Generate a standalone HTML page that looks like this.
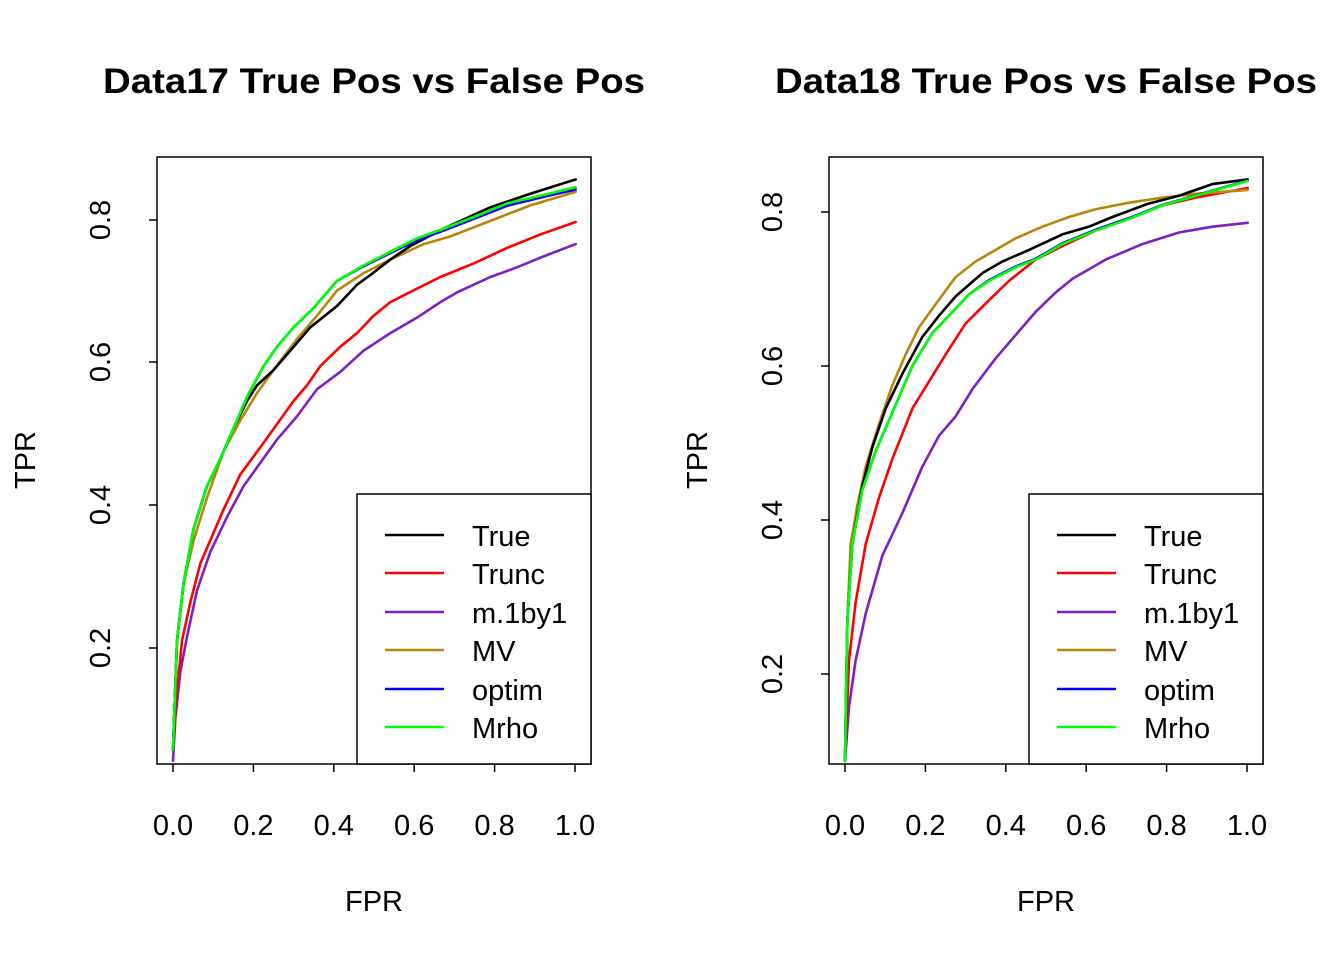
<!DOCTYPE html>
<html><head><meta charset="utf-8"><style>
html,body{margin:0;padding:0;background:#fff}
svg{display:block;font-family:"Liberation Sans",Arial,sans-serif}
</style></head><body>
<svg width="1344" height="960" viewBox="0 0 1344 960" xmlns="http://www.w3.org/2000/svg">
<defs>
<clipPath id="c1"><rect x="157" y="157" width="434" height="607"/></clipPath>
<clipPath id="c2"><rect x="829" y="157" width="434" height="607"/></clipPath>
</defs>
<g fill="none" stroke-width="2.6" stroke-linejoin="round" stroke-linecap="round">
<g clip-path="url(#c1)"><g transform="translate(157,157) scale(0.33333,0.3871)">
<polyline vector-effect="non-scaling-stroke" stroke="#7d1fc4" points="48,1560 55,1450 70,1330 90,1240 120,1120 160,1020 210,930 260,850 310,790 360,730 420,670 480,600 550,555 620,500 700,455 780,415 850,375 900,350 1000,310 1080,285 1150,260 1256,225"/>
<polyline vector-effect="non-scaling-stroke" stroke="#ff0000" points="48,1530 58,1400 75,1250 100,1150 130,1050 160,990 200,910 250,820 310,750 360,690 410,630 450,590 490,540 550,490 600,455 650,410 700,375 780,340 850,310 950,275 1050,235 1150,200 1256,168"/>
<polyline vector-effect="non-scaling-stroke" stroke="#b8860b" points="48,1530 60,1250 80,1100 110,990 150,880 200,760 250,680 300,610 350,550 420,470 480,410 540,345 620,300 700,265 800,225 880,205 1000,165 1120,125 1256,90"/>
<polyline vector-effect="non-scaling-stroke" stroke="#000" points="48,1530 60,1250 80,1100 110,960 150,850 190,780 230,700 270,630 300,590 350,550 400,500 460,440 540,385 600,330 640,305 700,265 760,230 860,185 1000,130 1120,95 1230,65 1256,58"/>
<polyline vector-effect="non-scaling-stroke" stroke="#0000ff" points="48,1530 60,1250 80,1100 110,960 150,850 190,780 230,700 270,620 320,540 360,490 410,440 470,390 540,320 620,282 700,248 780,215 860,190 950,160 1050,126 1150,105 1256,84"/>
<polyline vector-effect="non-scaling-stroke" stroke="#00ff00" points="48,1530 60,1250 80,1100 110,960 150,850 190,780 230,700 270,620 320,540 360,490 410,440 470,390 540,320 620,280 700,245 780,210 860,185 950,155 1050,120 1150,100 1256,78"/>
</g></g>
<g clip-path="url(#c2)"><g transform="translate(829,157) scale(0.33333,0.3871)">
<polyline vector-effect="non-scaling-stroke" stroke="#7d1fc4" points="48,1560 60,1420 80,1300 110,1180 160,1030 220,920 280,800 330,720 380,670 430,600 500,520 560,460 620,400 680,350 730,315 830,265 940,225 1050,195 1150,180 1256,170"/>
<polyline vector-effect="non-scaling-stroke" stroke="#ff0000" points="48,1560 60,1300 80,1150 110,1000 150,880 190,780 250,650 300,580 350,510 410,430 480,370 540,320 620,265 700,230 800,190 900,160 1000,125 1100,105 1256,80"/>
<polyline vector-effect="non-scaling-stroke" stroke="#b8860b" points="48,1560 55,1200 65,1000 85,900 110,800 150,690 190,590 230,510 270,440 320,380 380,310 440,270 500,240 560,210 640,180 720,155 800,135 900,118 1000,105 1100,95 1256,85"/>
<polyline vector-effect="non-scaling-stroke" stroke="#000" points="48,1560 55,1200 70,1000 100,850 130,750 170,650 220,560 280,465 330,410 380,360 460,300 520,270 600,240 700,200 780,180 850,155 960,120 1050,100 1150,70 1256,58"/>
<polyline vector-effect="non-scaling-stroke" stroke="#0000ff" points="48,1560 55,1200 70,1000 100,860 140,760 200,640 250,540 310,455 360,410 420,355 480,318 560,283 620,263 700,223 800,188 900,158 1000,124 1100,99 1256,61"/>
<polyline vector-effect="non-scaling-stroke" stroke="#00ff00" points="48,1560 55,1200 70,1000 100,860 140,760 200,640 250,540 310,455 360,410 420,355 480,320 560,285 620,265 700,225 800,190 900,160 1000,125 1100,100 1256,62"/>
</g></g>
</g>

<g stroke="#000" stroke-width="1.5" fill="none">
<rect x="157" y="157" width="434" height="607"/>
<rect x="829" y="157" width="434" height="607"/>
<line x1="173" y1="764" x2="173" y2="772"/><line x1="253.4" y1="764" x2="253.4" y2="772"/><line x1="333.8" y1="764" x2="333.8" y2="772"/><line x1="414.2" y1="764" x2="414.2" y2="772"/><line x1="494.6" y1="764" x2="494.6" y2="772"/><line x1="575" y1="764" x2="575" y2="772"/>
<line x1="149" y1="648" x2="157" y2="648"/><line x1="149" y1="505" x2="157" y2="505"/><line x1="149" y1="362" x2="157" y2="362"/><line x1="149" y1="220" x2="157" y2="220"/>
<line x1="845" y1="772" x2="845" y2="764"/><line x1="925.4" y1="764" x2="925.4" y2="772"/><line x1="1005.8" y1="764" x2="1005.8" y2="772"/><line x1="1086.2" y1="764" x2="1086.2" y2="772"/><line x1="1166.6" y1="764" x2="1166.6" y2="772"/><line x1="1247" y1="764" x2="1247" y2="772"/>
<line x1="821" y1="674" x2="829" y2="674"/><line x1="821" y1="520" x2="829" y2="520"/><line x1="821" y1="366" x2="829" y2="366"/><line x1="821" y1="212" x2="829" y2="212"/>
</g>

<g>
<rect x="357" y="494" width="234" height="270" fill="#fff" stroke="#000" stroke-width="1.5"/>
<rect x="1029" y="494" width="234" height="270" fill="#fff" stroke="#000" stroke-width="1.5"/>
<g stroke-width="2.6">
<line x1="385" y1="535" x2="444" y2="535" stroke="#000"/>
<line x1="385" y1="573" x2="444" y2="573" stroke="#ff0000"/>
<line x1="385" y1="612" x2="444" y2="612" stroke="#7d1fc4"/>
<line x1="385" y1="650" x2="444" y2="650" stroke="#b8860b"/>
<line x1="385" y1="689" x2="444" y2="689" stroke="#0000ff"/>
<line x1="385" y1="727" x2="444" y2="727" stroke="#00ff00"/>
<line x1="1057" y1="535" x2="1116" y2="535" stroke="#000"/>
<line x1="1057" y1="573" x2="1116" y2="573" stroke="#ff0000"/>
<line x1="1057" y1="612" x2="1116" y2="612" stroke="#7d1fc4"/>
<line x1="1057" y1="650" x2="1116" y2="650" stroke="#b8860b"/>
<line x1="1057" y1="689" x2="1116" y2="689" stroke="#0000ff"/>
<line x1="1057" y1="727" x2="1116" y2="727" stroke="#00ff00"/>
</g>
<g font-size="29" fill="#000">
<text x="472" y="546">True</text><text x="472" y="584">Trunc</text><text x="472" y="623">m.1by1</text><text x="472" y="661">MV</text><text x="472" y="700">optim</text><text x="472" y="738">Mrho</text>
<text x="1144" y="546">True</text><text x="1144" y="584">Trunc</text><text x="1144" y="623">m.1by1</text><text x="1144" y="661">MV</text><text x="1144" y="700">optim</text><text x="1144" y="738">Mrho</text>
</g>
</g>

<g font-size="29" fill="#000" text-anchor="middle">
<text x="173" y="835">0.0</text><text x="253.4" y="835">0.2</text><text x="333.8" y="835">0.4</text><text x="414.2" y="835">0.6</text><text x="494.6" y="835">0.8</text><text x="575" y="835">1.0</text>
<text x="845" y="835">0.0</text><text x="925.4" y="835">0.2</text><text x="1005.8" y="835">0.4</text><text x="1086.2" y="835">0.6</text><text x="1166.6" y="835">0.8</text><text x="1247" y="835">1.0</text>
<text transform="translate(110,648) rotate(-90)">0.2</text>
<text transform="translate(110,505) rotate(-90)">0.4</text>
<text transform="translate(110,362) rotate(-90)">0.6</text>
<text transform="translate(110,220) rotate(-90)">0.8</text>
<text transform="translate(782,674) rotate(-90)">0.2</text>
<text transform="translate(782,520) rotate(-90)">0.4</text>
<text transform="translate(782,366) rotate(-90)">0.6</text>
<text transform="translate(782,212) rotate(-90)">0.8</text>
<text x="374" y="911">FPR</text>
<text x="1046" y="911">FPR</text>
<text transform="translate(35,460) rotate(-90)">TPR</text>
<text transform="translate(707,460) rotate(-90)">TPR</text>
</g>
<g font-size="35" font-weight="bold" fill="#000" text-anchor="middle">
<text x="374" y="93" textLength="542" lengthAdjust="spacingAndGlyphs">Data17 True Pos vs False Pos</text>
<text x="1046" y="93" textLength="542" lengthAdjust="spacingAndGlyphs">Data18 True Pos vs False Pos</text>
</g>
</svg>
</body></html>
